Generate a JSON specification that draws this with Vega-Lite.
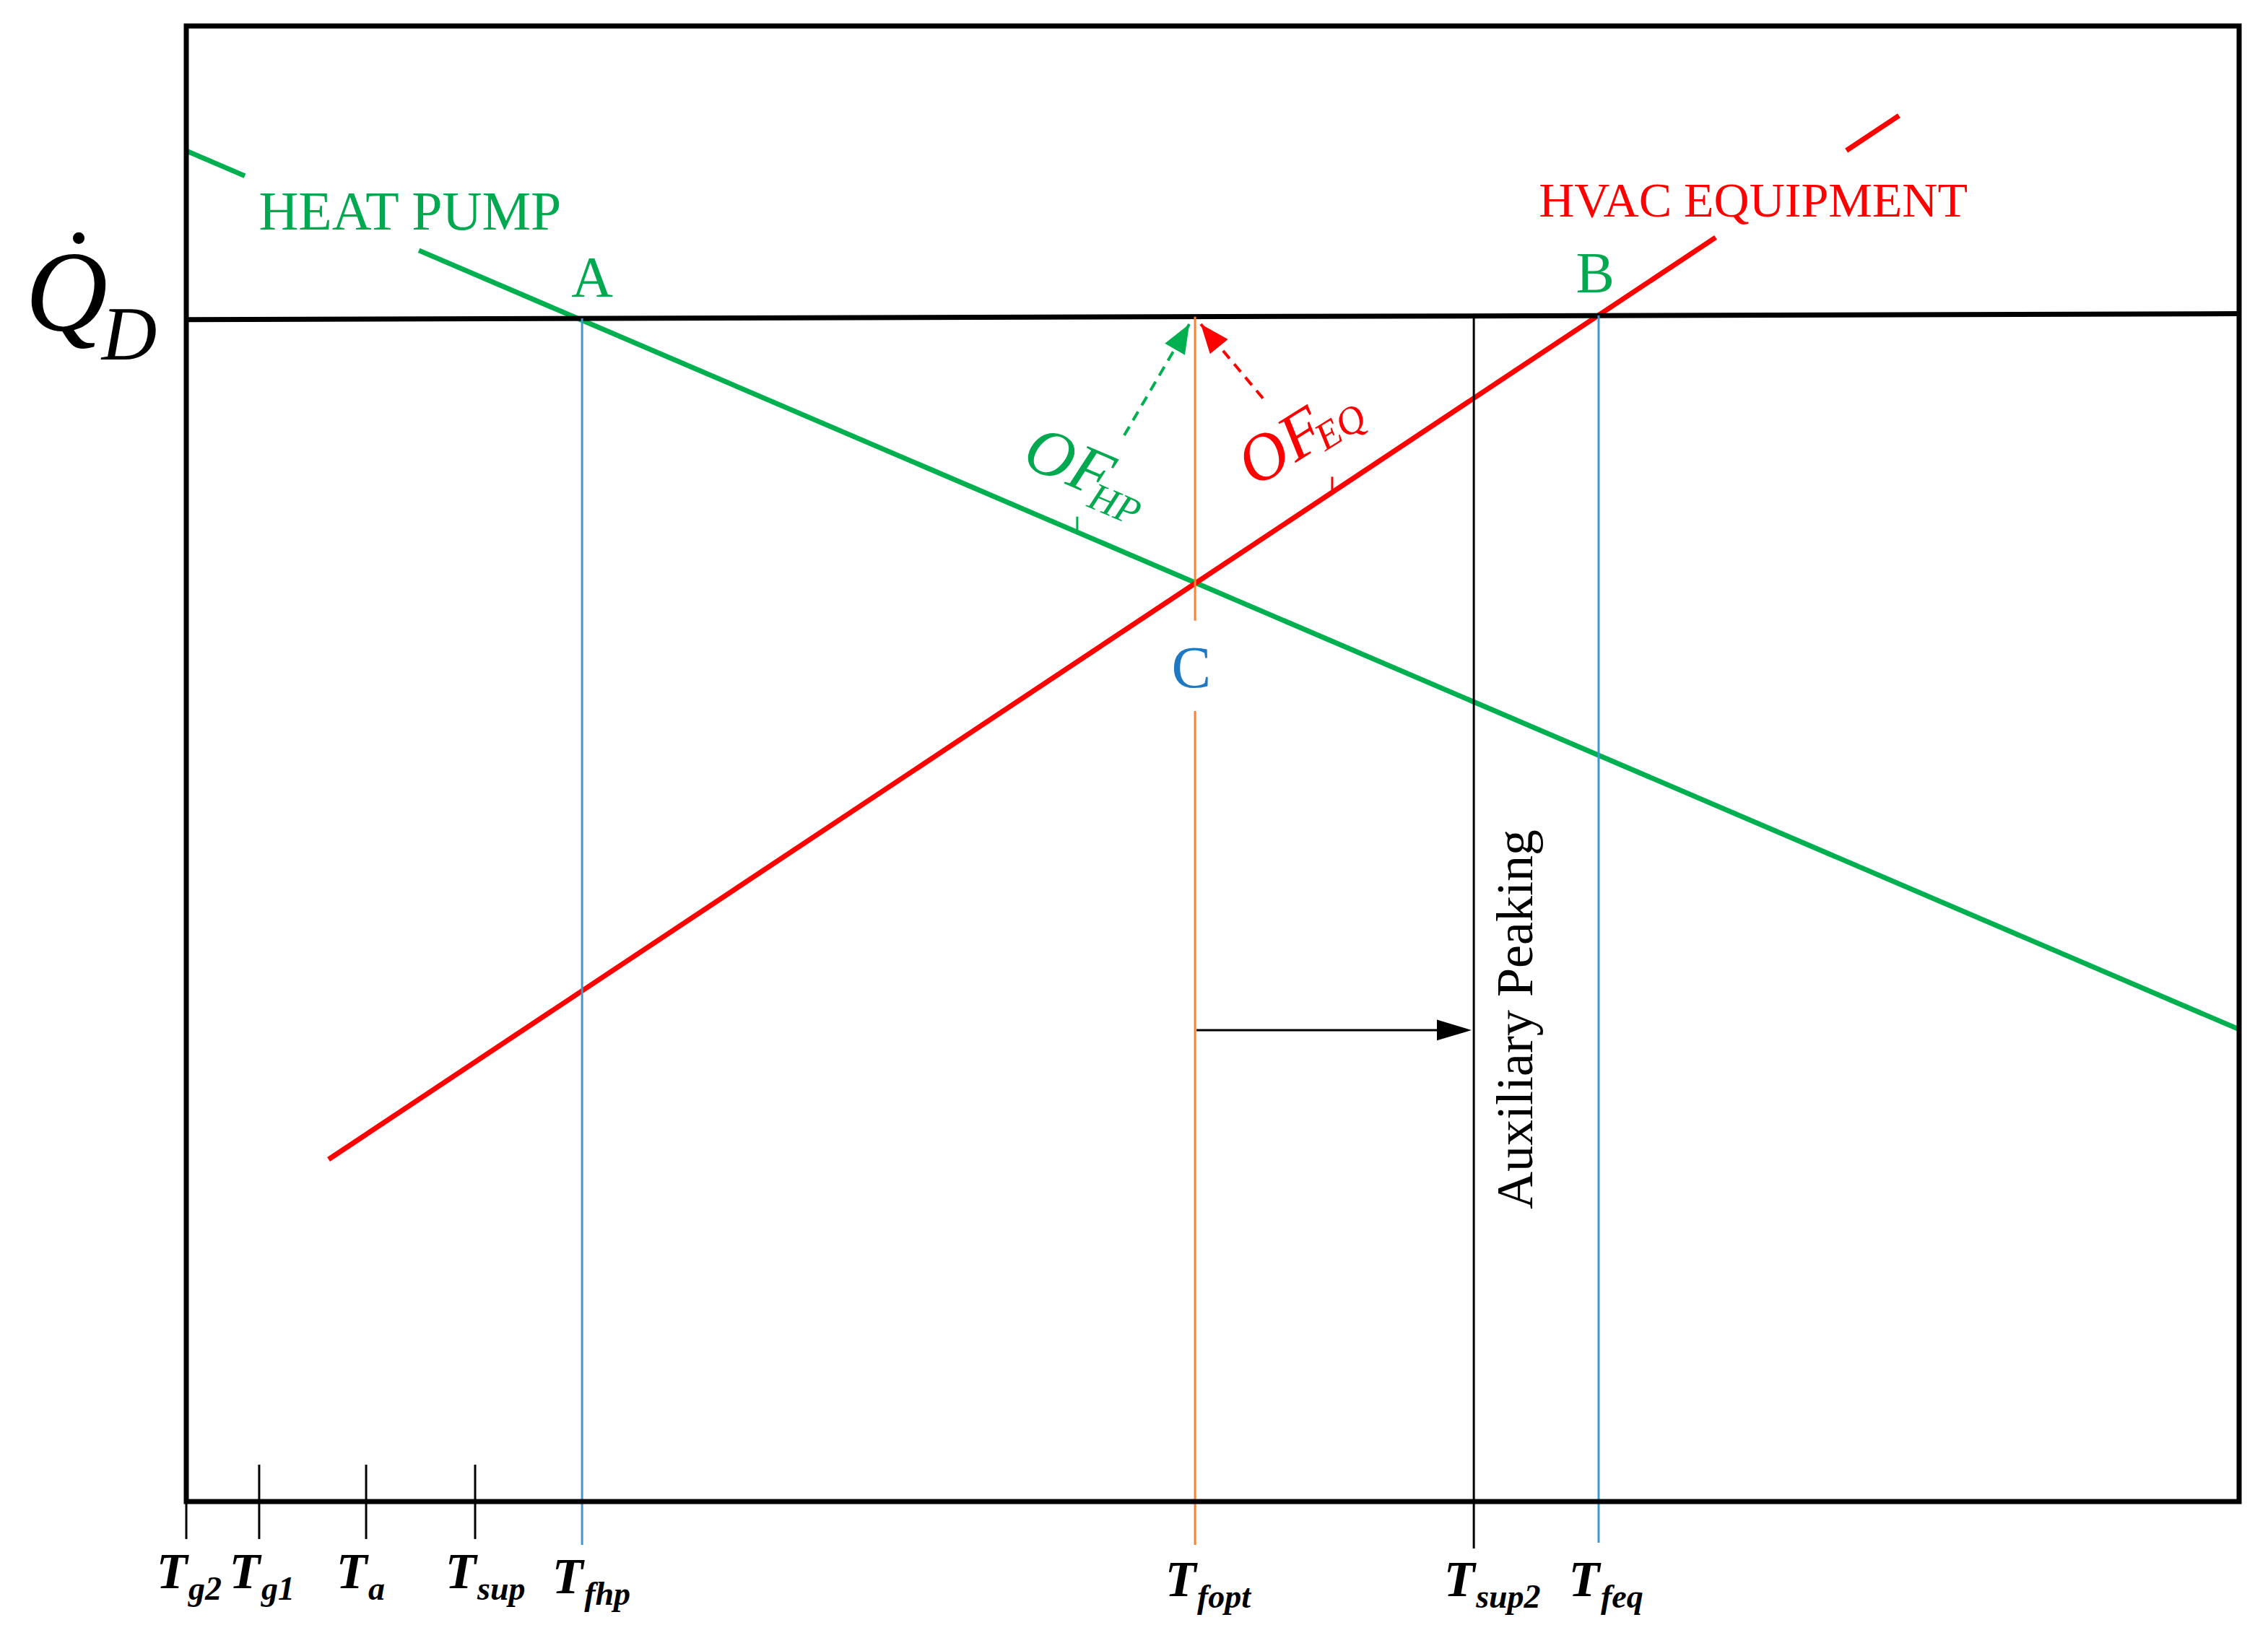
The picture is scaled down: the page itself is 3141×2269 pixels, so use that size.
{
  "$schema": "https://vega.github.io/schema/vega-lite/v6.json",
  "width": 3141,
  "height": 2269,
  "autosize": {"type": "fit", "contains": "padding"},
  "padding": 0,
  "background": "white",
  "config": {"view": {"stroke": null}},
  "datasets": {
    "curves": [
      {"series": "HEAT PUMP", "seg": "a", "x": 0, "y": 91.54},
      {"series": "HEAT PUMP", "seg": "a", "x": 2.85, "y": 89.84},
      {"series": "HEAT PUMP", "seg": "b", "x": 11.33, "y": 84.79},
      {"series": "HEAT PUMP", "seg": "b", "x": 100, "y": 32.0},
      {"series": "HVAC EQUIPMENT", "seg": "c", "x": 6.93, "y": 23.19},
      {"series": "HVAC EQUIPMENT", "seg": "c", "x": 74.5, "y": 85.67},
      {"series": "HVAC EQUIPMENT", "seg": "d", "x": 80.87, "y": 91.56},
      {"series": "HVAC EQUIPMENT", "seg": "d", "x": 83.43, "y": 93.93},
      {"series": "Q_D", "seg": "e", "x": 0, "y": 80.1},
      {"series": "Q_D", "seg": "e", "x": 100, "y": 80.5}
    ],
    "rules": [
      {"name": "T_fhp", "group": "balance", "x": 19.28, "y": 80.18, "y2": -2.94},
      {"name": "T_fopt", "group": "optimum", "x": 49.14, "y": 80.3, "y2": 59.7},
      {"name": "T_fopt", "group": "optimum", "x": 49.14, "y": 53.57, "y2": -2.94},
      {"name": "T_sup2", "group": "reference", "x": 62.72, "y": 80.35, "y2": -3.18},
      {"name": "T_feq", "group": "balance", "x": 68.8, "y": 80.38, "y2": -2.79},
      {"name": "T_g2", "group": "reference", "x": 0, "y": 0, "y2": -2.54},
      {"name": "T_g1", "group": "reference", "x": 3.55, "y": 2.5, "y2": -2.54},
      {"name": "T_a", "group": "reference", "x": 8.76, "y": 2.5, "y2": -2.54},
      {"name": "T_sup", "group": "reference", "x": 14.07, "y": 2.5, "y2": -2.54},
      {"name": "mark HP", "group": "OF_HP", "x": 43.4, "y": 65.7, "y2": 66.75},
      {"name": "mark EQ", "group": "OF_EQ", "x": 55.82, "y": 68.4, "y2": 69.45}
    ],
    "arrows": [
      {"arrow": "OF_HP", "x": 45.69, "y": 72.26},
      {"arrow": "OF_HP", "x": 48.86, "y": 79.79},
      {"arrow": "OF_EQ", "x": 52.48, "y": 74.71},
      {"arrow": "OF_EQ", "x": 49.42, "y": 79.79}
    ],
    "tlabels": [
      {"base": "T", "sub": "g2", "x": 0, "y": -5.87},
      {"base": "T", "sub": "g1", "x": 3.55, "y": -5.87},
      {"base": "T", "sub": "a", "x": 8.76, "y": -5.87},
      {"base": "T", "sub": "sup", "x": 14.07, "y": -5.87},
      {"base": "T", "sub": "fhp", "x": 19.28, "y": -6.2},
      {"base": "T", "sub": "fopt", "x": 49.14, "y": -6.4},
      {"base": "T", "sub": "sup2", "x": 62.72, "y": -6.4},
      {"base": "T", "sub": "feq", "x": 68.8, "y": -6.4}
    ]
  },
  "encoding": {
    "x": {"field": "x", "type": "quantitative", "scale": {"domain": [-9.075, 101.407], "nice": false, "zero": false}, "axis": null},
    "y": {"field": "y", "type": "quantitative", "scale": {"domain": [-9.247, 101.76], "nice": false, "zero": false}, "axis": null}
  },
  "layer": [
    {
      "data": {"name": "curves"},
      "mark": {"type": "line", "strokeWidth": 7, "strokeCap": "butt"},
      "encoding": {
        "color": {"field": "series", "type": "nominal", "legend": null,
          "scale": {"domain": ["HEAT PUMP", "HVAC EQUIPMENT", "Q_D", "balance", "optimum", "reference", "OF_HP", "OF_EQ"],
                    "range": ["#00b050", "#ff0000", "#000000", "#3a9ad9", "#ff8030", "#000000", "#00b050", "#ff0000"]}},
        "detail": {"field": "seg", "type": "nominal"}
      }
    },
    {
      "data": {"name": "rules"},
      "mark": {"type": "rule", "strokeWidth": 3},
      "encoding": {
        "y2": {"field": "y2"},
        "color": {"field": "group", "type": "nominal", "legend": null}
      }
    },
    {
      "data": {"name": "arrows"},
      "mark": {"type": "line", "strokeWidth": 4, "strokeDash": [14, 10]},
      "encoding": {
        "color": {"field": "arrow", "type": "nominal", "legend": null},
        "detail": {"field": "arrow", "type": "nominal"}
      }
    },
    {
      "data": {"values": [{"arrow": "OF_HP", "x": 48.86, "y": 79.79}]},
      "mark": {"type": "point", "filled": true, "opacity": 1, "shape": "M0,0L-2,-0.8L-2,0.8Z", "size": 1600, "angle": 300, "color": "#00b050"}
    },
    {
      "data": {"values": [{"arrow": "OF_EQ", "x": 49.42, "y": 79.79}]},
      "mark": {"type": "point", "filled": true, "opacity": 1, "shape": "M0,0L-2,-0.8L-2,0.8Z", "size": 1600, "angle": 231, "color": "#ff0000"}
    },
    {
      "data": {"values": [{"x": 49.21, "x2": 62.4, "y": 31.95}]},
      "mark": {"type": "rule", "strokeWidth": 3, "color": "black"},
      "encoding": {"x2": {"field": "x2"}}
    },
    {
      "data": {"values": [{"x": 62.61, "y": 31.95}]},
      "mark": {"type": "point", "filled": true, "opacity": 1, "shape": "M0,0L-2,-0.6L-2,0.6Z", "size": 2304, "angle": 0, "color": "black"}
    },
    {
      "data": {"values": [{"x": 0, "y": 0, "x2": 100, "y2": 100}]},
      "mark": {"type": "rect", "fillOpacity": 0, "stroke": "black", "strokeWidth": 7},
      "encoding": {"x2": {"field": "x2"}, "y2": {"field": "y2"}}
    },
    {
      "data": {"values": [{"label": "HEAT PUMP", "x": 10.9, "y": 86.2}]},
      "mark": {"type": "text", "font": "Liberation Serif", "fontSize": 76, "color": "#00a84f", "align": "center", "baseline": "alphabetic"},
      "encoding": {"text": {"field": "label"}}
    },
    {
      "data": {"values": [{"label": "HVAC EQUIPMENT", "x": 76.33, "y": 87.08}]},
      "mark": {"type": "text", "font": "Liberation Serif", "fontSize": 68, "color": "#ff0000", "align": "center", "baseline": "alphabetic"},
      "encoding": {"text": {"field": "label"}}
    },
    {
      "data": {"values": [{"label": "A", "x": 19.77, "y": 81.65}, {"label": "B", "x": 68.63, "y": 81.95}]},
      "mark": {"type": "text", "font": "Liberation Serif", "fontSize": 80, "color": "#00a84f", "align": "center", "baseline": "alphabetic"},
      "encoding": {"text": {"field": "label"}}
    },
    {
      "data": {"values": [{"label": "C", "x": 48.96, "y": 55.19}]},
      "mark": {"type": "text", "font": "Liberation Serif", "fontSize": 82, "color": "#1e78c2", "align": "center", "baseline": "alphabetic"},
      "encoding": {"text": {"field": "label"}}
    },
    {
      "data": {"values": [{"label": "OF", "x": 42.98, "y": 70.35}]},
      "mark": {"type": "text", "font": "Liberation Serif", "fontStyle": "italic", "fontSize": 92, "angle": 23, "color": "#00a84f", "align": "center", "baseline": "middle"},
      "encoding": {"text": {"field": "label"}}
    },
    {
      "data": {"values": [{"label": "HP", "x": 45.2, "y": 67.5}]},
      "mark": {"type": "text", "font": "Liberation Serif", "fontStyle": "italic", "fontSize": 54, "angle": 23, "color": "#00a84f", "align": "center", "baseline": "middle"},
      "encoding": {"text": {"field": "label"}}
    },
    {
      "data": {"values": [{"label": "OF", "x": 53.36, "y": 71.43}]},
      "mark": {"type": "text", "font": "Liberation Serif", "fontStyle": "italic", "fontSize": 92, "angle": 328, "color": "#ff0000", "align": "center", "baseline": "middle"},
      "encoding": {"text": {"field": "label"}}
    },
    {
      "data": {"values": [{"label": "EQ", "x": 56.25, "y": 72.75}]},
      "mark": {"type": "text", "font": "Liberation Serif", "fontStyle": "italic", "fontSize": 54, "angle": 328, "color": "#ff0000", "align": "center", "baseline": "middle"},
      "encoding": {"text": {"field": "label"}}
    },
    {
      "data": {"values": [{"label": "Auxiliary Peaking", "x": 65.56, "y": 32.68}]},
      "mark": {"type": "text", "font": "Liberation Serif", "fontSize": 72, "angle": 270, "color": "black", "align": "center", "baseline": "alphabetic"},
      "encoding": {"text": {"field": "label"}}
    },
    {
      "data": {"values": [{"label": "Q", "x": -5.84, "y": 79.4}]},
      "mark": {"type": "text", "font": "Liberation Serif", "fontStyle": "italic", "fontSize": 158, "color": "black", "align": "center", "baseline": "alphabetic"},
      "encoding": {"text": {"field": "label"}}
    },
    {
      "data": {"values": [{"label": "D", "x": -2.78, "y": 77.4}]},
      "mark": {"type": "text", "font": "Liberation Serif", "fontStyle": "italic", "fontSize": 106, "color": "black", "align": "center", "baseline": "alphabetic"},
      "encoding": {"text": {"field": "label"}}
    },
    {
      "data": {"values": [{"label": "dot", "x": -5.24, "y": 85.62}]},
      "mark": {"type": "point", "shape": "circle", "filled": true, "opacity": 1, "size": 260, "color": "black"}
    },
    {
      "data": {"name": "tlabels"},
      "mark": {"type": "text", "font": "Liberation Serif", "fontStyle": "italic", "fontWeight": "bold", "fontSize": 70, "color": "black", "align": "center", "baseline": "alphabetic", "dx": -20},
      "encoding": {"text": {"field": "base"}}
    },
    {
      "data": {"name": "tlabels"},
      "mark": {"type": "text", "font": "Liberation Serif", "fontStyle": "italic", "fontWeight": "bold", "fontSize": 46, "color": "black", "align": "left", "baseline": "alphabetic", "dx": 3, "dy": 16},
      "encoding": {"text": {"field": "sub"}}
    }
  ]
}
